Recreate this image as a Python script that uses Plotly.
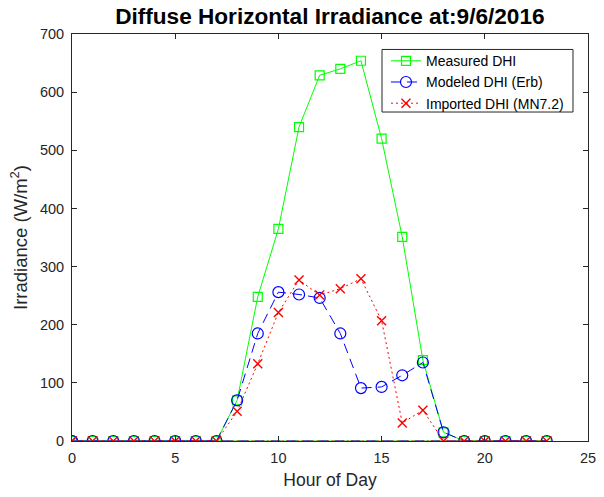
import plotly.graph_objects as go

# Data (hour 0..23, then the series returns to hour 0 as in the original plot)
hours = list(range(24)) + [0]
measured = [0, 0, 0, 0, 0, 0, 0, 0, 70, 248, 365, 540, 629, 640, 654, 520, 351, 139, 15, 0, 0, 0, 0, 0, 0]
modeled = [0, 0, 0, 0, 0, 0, 0, 0, 70, 185, 256, 252, 246, 185, 91, 93, 113, 135, 15, 0, 0, 0, 0, 0, 0]
imported = [0, 0, 0, 0, 0, 0, 0, 0, 51, 133, 221, 277, 251, 262, 279, 207, 31, 53, 0, 0, 0, 0, 0, 0, 0]

series_names = ["Measured DHI", "Modeled DHI (Erb)", "Imported DHI (MN7.2)"]
title_text = "Diffuse Horizontal Irradiance at:9/6/2016"
x_ticks = [0, 5, 10, 15, 20, 25]
y_ticks = [0, 100, 200, 300, 400, 500, 600, 700]

FONT = "Liberation Sans, Arial, sans-serif"
AX = "#262626"

fig = go.Figure()
fig.add_trace(go.Scatter(
    x=hours, y=measured, name=series_names[0], mode="lines+markers",
    line=dict(color="#00ff00", width=1),
    marker=dict(symbol="square-open", size=9, color="#00ff00", line=dict(width=1.2, color="#00ff00")),
))
fig.add_trace(go.Scatter(
    x=hours, y=modeled, name=series_names[1], mode="lines+markers",
    line=dict(color="#0000ff", width=1, dash="10px,6px"),
    marker=dict(symbol="circle-open", size=11, color="#0000ff", line=dict(width=1.2, color="#0000ff")),
))
fig.add_trace(go.Scatter(
    x=hours, y=imported, name=series_names[2], mode="lines+markers",
    line=dict(color="#ff0000", width=1, dash="2px,3px"),
    marker=dict(symbol="x-thin-open", size=9, color="#ff0000", line=dict(width=1.4, color="#ff0000")),
))

axis_common = dict(
    showline=True, linecolor=AX, linewidth=1, mirror="ticks",
    ticks="inside", ticklen=5, tickcolor=AX, tickwidth=1,
    showgrid=False, zeroline=False,
    tickfont=dict(family=FONT, size=14.5, color=AX),
    ticklabelstandoff=4,
)

fig.update_layout(
    width=604, height=497,
    margin=dict(l=71.7, r=16.3, t=33.5, b=55.5, autoexpand=False),
    paper_bgcolor="white", plot_bgcolor="white",
    title=dict(text="<b>" + title_text + "</b>", x=0.5461, xanchor="center",
               y=0.968, yanchor="middle",
               font=dict(family=FONT, size=22.6, color="black")),
    xaxis=dict(range=[0, 25], tickvals=x_ticks,
               title=dict(text="Hour of Day", font=dict(family=FONT, size=17.5, color=AX), standoff=8),
               **axis_common),
    yaxis=dict(range=[0, 700], tickvals=y_ticks,
               title=dict(text="Irradiance (W/m<sup>2</sup>)", font=dict(family=FONT, size=18.5, color=AX), standoff=7),
               **axis_common),
    legend=dict(x=0.6085, y=0.9725, xanchor="left", yanchor="top",
                bgcolor="rgba(0,0,0,0)", borderwidth=0,
                font=dict(family=FONT, size=14, color="black"),
                itemwidth=30),
    shapes=[dict(type="rect", xref="paper", yref="paper",
                 x0=0.6008, x1=0.9709, y0=0.8083, y1=0.962,
                 line=dict(color=AX, width=1), fillcolor="white", layer="above")],
    showlegend=True,
)

fig.write_html("out.html", config={"displayModeBar": False},
               post_script="document.body.style.margin='0';document.body.style.padding='0';")
